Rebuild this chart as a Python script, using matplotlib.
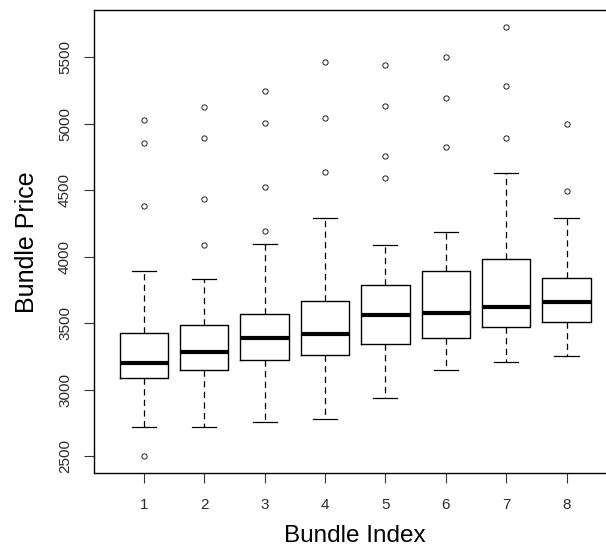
import matplotlib
matplotlib.use("Agg")
import matplotlib.pyplot as plt
import numpy as np

# Bundle price summary per bundle (boxplot statistics)
bundles = [1, 2, 3, 4, 5, 6, 7, 8]
medians = [3200, 3280, 3390, 3420, 3560, 3580, 3620, 3660]
q1 = [3090, 3150, 3220, 3260, 3340, 3390, 3470, 3510]
q3 = [3430, 3490, 3570, 3670, 3790, 3895, 3985, 3840]
whislo = [2720, 2720, 2760, 2780, 2940, 3150, 3210, 3250]
whishi = [3895, 3835, 4095, 4295, 4085, 4185, 4630, 4290]
fliers = [
    [5025, 4855, 4385, 2500],
    [5125, 4895, 4435, 4090],
    [5245, 5005, 4525, 4195],
    [5465, 5045, 4635],
    [5445, 5135, 4755, 4595],
    [5505, 5195, 4825],
    [5725, 5285, 4895],
    [4995, 4495],
]
yticks = [2500, 3000, 3500, 4000, 4500, 5000, 5500]

plt.rcParams['font.family'] = ['Liberation Sans', 'DejaVu Sans']

fig = plt.figure(figsize=(6.06, 5.53), dpi=100)
ax = fig.add_axes([0.1556, 0.1441, 0.861, 0.8373])

stats = []
for i in range(len(bundles)):
    stats.append(dict(med=medians[i], q1=q1[i], q3=q3[i],
                      whislo=whislo[i], whishi=whishi[i],
                      fliers=fliers[i], label=str(bundles[i])))

ax.bxp(stats, positions=bundles, widths=0.8, capwidths=0.4,
       boxprops=dict(color='black', linewidth=1.0),
       medianprops=dict(color='black', linewidth=3.0, solid_capstyle='butt'),
       whiskerprops=dict(color='black', linewidth=0.9, linestyle=(0, (5, 3.5))),
       capprops=dict(color='black', linewidth=0.9),
       flierprops=dict(marker='o', markersize=3.8, markerfacecolor='none',
                       markeredgecolor='black', markeredgewidth=0.6))

# R-style axis ranges: 4% padding around the data
lo = min(min(whislo), min(min(f) for f in fliers))
hi = max(max(whishi), max(max(f) for f in fliers))
pad = 0.04 * (hi - lo)
ax.set_ylim(lo - pad, hi + pad)
ax.set_xlim(0.5 - 0.32, 8.5 + 0.32)

ax.set_yticks(yticks)
ax.set_xticks(bundles)
ax.set_xticklabels([str(b) for b in bundles])

ax.tick_params(axis='both', length=7.5, width=0.8, color='#333333',
               labelcolor='#2a2a2a', labelsize=11)
ax.tick_params(axis='x', pad=10)
ax.tick_params(axis='y', pad=8.5)
for lab in ax.get_yticklabels():
    lab.set_rotation(90)
    lab.set_va('center')

for sp in ax.spines.values():
    sp.set_linewidth(1.0)
    sp.set_color('black')

ax.set_xlabel("Bundle Index", fontsize=17.5)
ax.set_ylabel("Bundle Price", fontsize=18)
ax.xaxis.set_label_coords(0.5, -0.112)
ax.yaxis.set_label_coords(-0.106, 0.5)

fig.savefig("out.png", dpi=100)
